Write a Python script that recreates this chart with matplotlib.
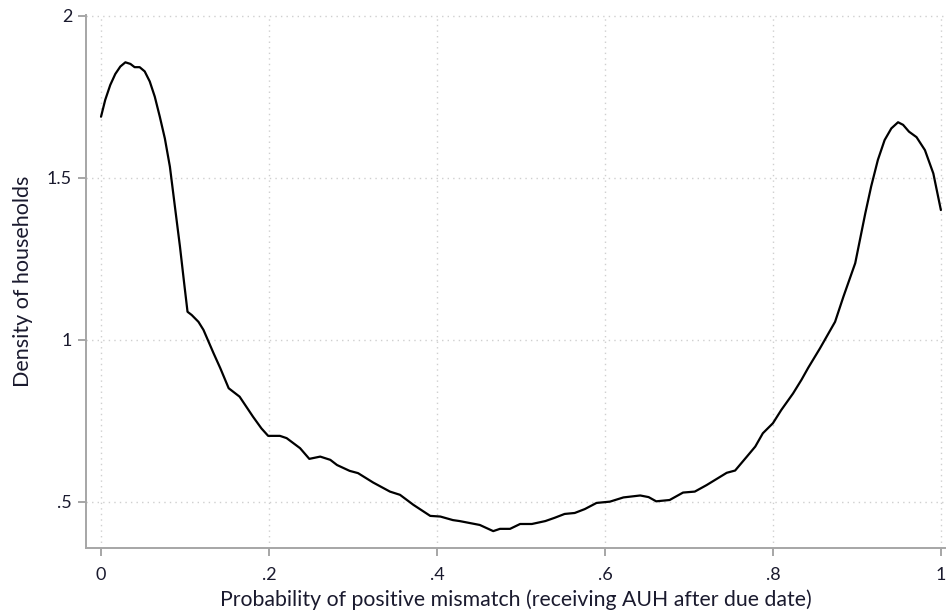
import matplotlib
matplotlib.use("Agg")
import matplotlib.pyplot as plt

# Kernel density of the estimated probability of positive mismatch
prob = [0.000, 0.005, 0.011, 0.017, 0.023, 0.029, 0.035, 0.040, 0.046, 0.052,
        0.058, 0.064, 0.070, 0.076, 0.082, 0.088, 0.094, 0.099, 0.103, 0.108,
        0.116, 0.122, 0.134, 0.142, 0.152, 0.165,
        0.181, 0.191, 0.199, 0.213, 0.221, 0.237, 0.248, 0.261, 0.273, 0.281,
        0.296, 0.306, 0.324, 0.344, 0.356, 0.372, 0.392, 0.404, 0.419, 0.427,
        0.451, 0.467, 0.475, 0.487, 0.499, 0.513, 0.529, 0.540, 0.552, 0.564,
        0.576, 0.590, 0.606, 0.622, 0.642, 0.652, 0.661, 0.677, 0.693, 0.707,
        0.721, 0.733, 0.745, 0.755, 0.769, 0.779, 0.788, 0.800, 0.810, 0.824,
        0.834, 0.842, 0.856, 0.874, 0.884, 0.898, 0.904, 0.910, 0.917, 0.925,
        0.933, 0.941, 0.949, 0.955, 0.962, 0.971, 0.981, 0.991, 1.000]
density = [1.689, 1.741, 1.787, 1.821, 1.844, 1.857, 1.852, 1.842, 1.842, 1.829,
           1.798, 1.751, 1.689, 1.622, 1.535, 1.411, 1.288, 1.175, 1.087, 1.077,
           1.056, 1.031, 0.959, 0.913, 0.851, 0.825,
           0.763, 0.727, 0.704, 0.704, 0.697, 0.666, 0.633, 0.640, 0.630, 0.614,
           0.596, 0.589, 0.560, 0.532, 0.522, 0.491, 0.457, 0.455, 0.444, 0.441,
           0.429, 0.410, 0.417, 0.417, 0.432, 0.432, 0.441, 0.451, 0.463, 0.466,
           0.478, 0.497, 0.501, 0.514, 0.520, 0.515, 0.502, 0.506, 0.529, 0.532,
           0.552, 0.571, 0.590, 0.597, 0.640, 0.671, 0.712, 0.743, 0.784, 0.835,
           0.877, 0.914, 0.974, 1.056, 1.134, 1.237, 1.314, 1.391, 1.474, 1.556,
           1.617, 1.653, 1.672, 1.664, 1.643, 1.626, 1.586, 1.514, 1.401]

xticks = [0, 0.2, 0.4, 0.6, 0.8, 1.0]
xticklabels = ["0", ".2", ".4", ".6", ".8", "1"]
yticks = [0.5, 1.0, 1.5, 2.0]
yticklabels = [".5", "1", "1.5", "2"]

plt.rcParams["font.family"] = ["Lato", "DejaVu Sans"]

fig = plt.figure(figsize=(9.47, 6.15), dpi=100)
ax = fig.add_axes([0.0908, 0.109, 0.907, 0.8666])

ax.plot(prob, density, color="black", linewidth=1.6,
        solid_joinstyle="round", solid_capstyle="round")

ax.set_xlim(-0.0179, 1.0048)
ax.set_ylim(0.358, 2.003)
ax.set_xticks(xticks)
ax.set_xticklabels(xticklabels)
ax.set_yticks(yticks)
ax.set_yticklabels(yticklabels)

ax.grid(True, linestyle=(0, (1, 3)), color="#cfcfcf", linewidth=1.0)
ax.set_axisbelow(True)

for side in ("top", "right"):
    ax.spines[side].set_visible(False)
for side in ("left", "bottom"):
    ax.spines[side].set_color("#a6a6a6")
    ax.spines[side].set_linewidth(1.4)

ax.tick_params(axis="both", colors="#a6a6a6", length=6, width=1.4,
               labelcolor="#1a1a2e", labelsize=13)
ax.tick_params(axis="x", pad=8)
ax.tick_params(axis="y", pad=4)

ax.set_xlabel("Probability of positive mismatch (receiving AUH after due date)",
              fontsize=15.3, color="#1a1a2e", labelpad=4)
ax.set_ylabel("Density of households", fontsize=15.5, color="#1a1a2e", labelpad=10)

fig.savefig("out.png", dpi=100)
